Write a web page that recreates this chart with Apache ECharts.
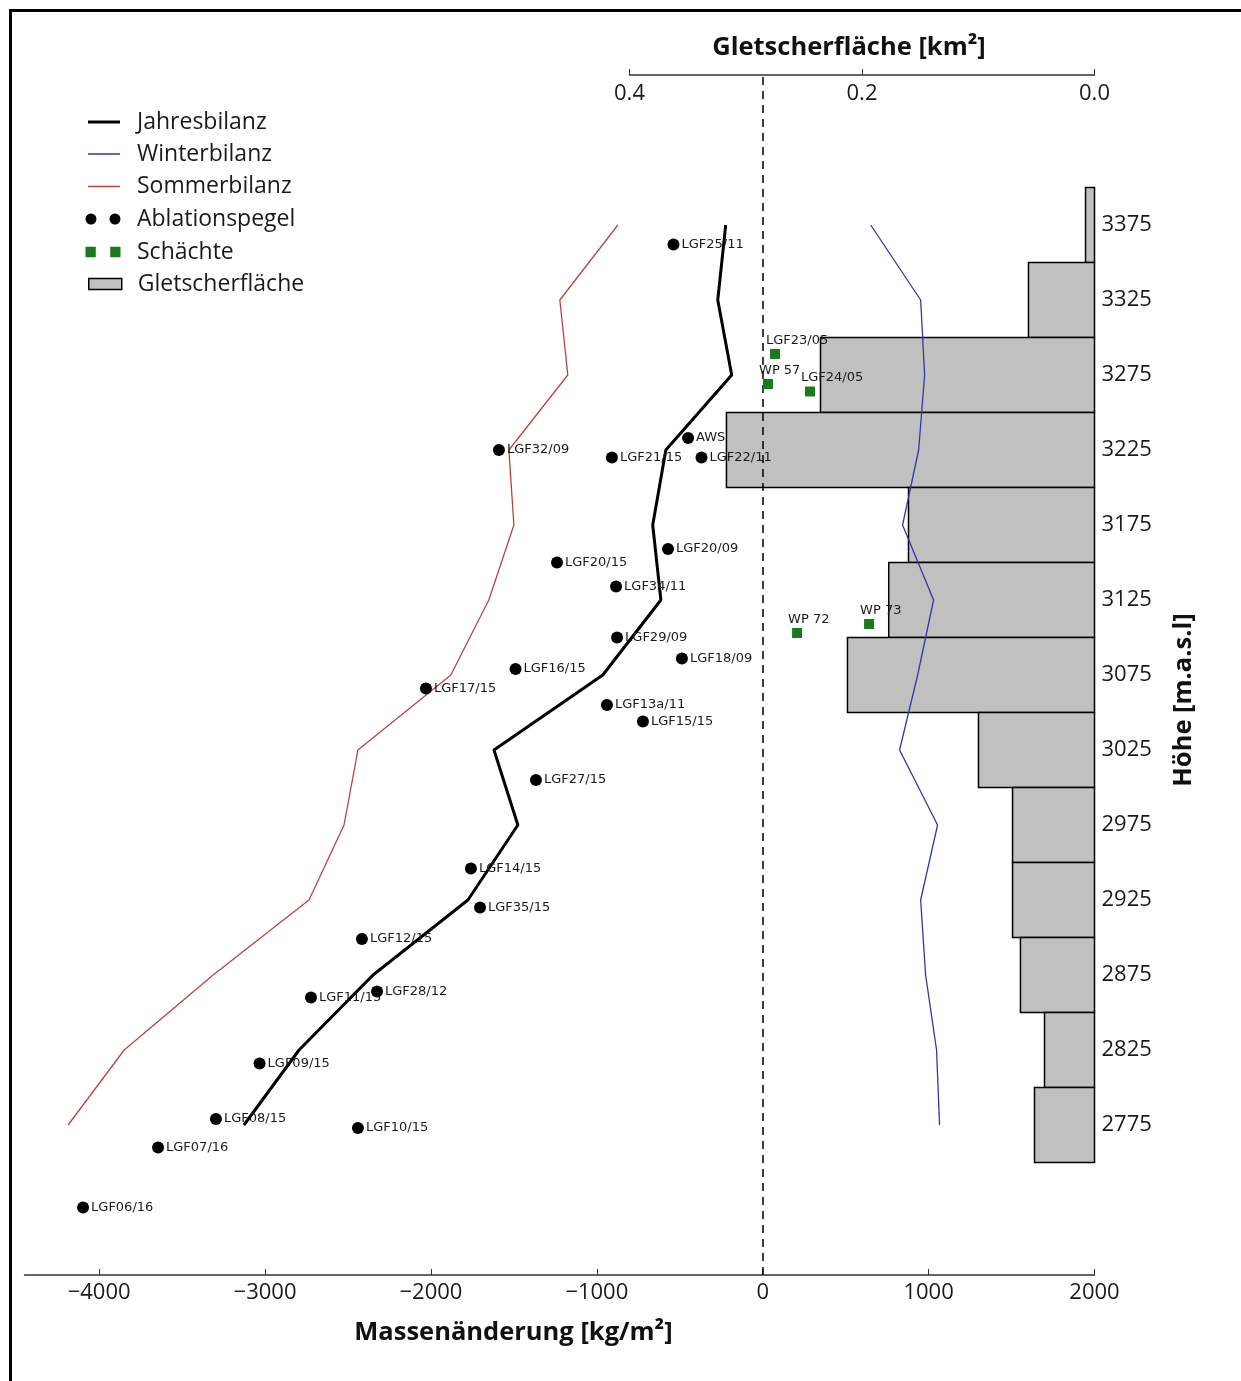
<!DOCTYPE html>
<html>
<head>
<meta charset="utf-8">
<title>Massenbilanz nach Höhenstufen</title>
<script src="https://cdn.jsdelivr.net/npm/echarts@6.0.0/dist/echarts.min.js"></script>
<style>
  html, body { margin: 0; padding: 0; background: #fff; }
  #chart { width: 1241px; height: 1381px; }
</style>
</head>
<body>
<div id="chart"></div>
<script>
// Höhenstufen (Mitte der 50 m Bänder) und Bilanzen [kg/m²]
const elevations = [3375, 3325, 3275, 3225, 3175, 3125, 3075, 3025, 2975, 2925, 2875, 2825, 2775];
const jahresbilanz = [-223, -271, -187, -584, -663, -614, -964, -1620, -1476, -1777, -2349, -2795, -3127];
const winterbilanz = [651, 952, 976, 940, 843, 1030, 934, 825, 1054, 952, 982, 1048, 1066];
const sommerbilanz = [-873, -1223, -1175, -1530, -1500, -1651, -1880, -2440, -2524, -2735, -3313, -3849, -4187];

// Gletscherfläche je Höhenstufe [km²]
const flaeche = [0.0077, 0.0568, 0.2357, 0.3166, 0.160, 0.177, 0.2125, 0.0998, 0.0705, 0.0705, 0.0637, 0.043, 0.0516];
const bandHeight = 50;

// Ablationspegel
const stakeNames = ['LGF25/11', 'AWS', 'LGF32/09', 'LGF21/15', 'LGF22/11', 'LGF20/09', 'LGF20/15', 'LGF34/11',
    'LGF29/09', 'LGF18/09', 'LGF16/15', 'LGF17/15', 'LGF13a/11', 'LGF15/15', 'LGF27/15', 'LGF14/15',
    'LGF35/15', 'LGF12/15', 'LGF28/12', 'LGF11/15', 'LGF09/15', 'LGF08/15', 'LGF10/15', 'LGF07/16', 'LGF06/16'];
const stakeMass = [-538, -450, -1590, -909, -369, -571, -1240, -884,
    -878, -487, -1490, -2030, -939, -722, -1367, -1759,
    -1704, -2416, -2325, -2723, -3033, -3296, -2440, -3645, -4097];
const stakeElev = [3362, 3233, 3225, 3220, 3220, 3159, 3150, 3134,
    3100, 3086, 3079, 3066, 3055, 3044, 3005, 2946,
    2920, 2899, 2864, 2860, 2816, 2779, 2773, 2760, 2720];

// Schächte
const pitNames = ['LGF23/05', 'WP 57', 'LGF24/05', 'WP 72', 'WP 73'];
const pitMass = [74, 32, 285, 207, 641];
const pitElev = [3289, 3269, 3264, 3103, 3109];

// Achsenbeschriftung
const massTicks = [-4000, -3000, -2000, -1000, 0, 1000, 2000];
const areaTicks = [0, 0.2, 0.4];
const elevTicks = [2775, 2825, 2875, 2925, 2975, 3025, 3075, 3125, 3175, 3225, 3275, 3325, 3375];

const sans = 'Open Sans';
const smallFont = 'DejaVu Sans';

function pairs(xs, ys) {
    return xs.map((x, i) => [x, ys[i]]);
}

function named(names, xs, ys) {
    return names.map((n, i) => ({ name: n, value: [xs[i], ys[i]] }));
}

// horizontales Flächenband, von 0 km² (rechts) nach links
function renderBand(params, api) {
    const elev = api.value(1);
    const a = api.coord([api.value(0), elev + bandHeight / 2]);
    const b = api.coord([0, elev - bandHeight / 2]);
    return {
        type: 'rect',
        shape: { x: a[0], y: a[1], width: b[0] - a[0], height: b[1] - a[1] },
        style: { fill: '#c0c0c0', stroke: '#000', lineWidth: 1.5 }
    };
}

const legendText = { fontFamily: sans, fontSize: 23, color: '#1a1a1a', padding: [0, 0, 0, 12] };
const titleText = { fontFamily: sans, fontWeight: 'bold', fontSize: 25.5, color: '#111' };
const twoDots = 'path://M0,5.5a5.5,5.5 0 1,0 11,0a5.5,5.5 0 1,0 -11,0z M24,5.5a5.5,5.5 0 1,0 11,0a5.5,5.5 0 1,0 -11,0z';
const twoSquares = 'path://M0,0h10v10h-10z M24,0h10v10h-10z';

const option = {
    animation: false,
    backgroundColor: '#fff',
    graphic: [{
        type: 'rect', silent: true, z: -1,
        shape: { x: 10.5, y: 10.5, width: 1240, height: 1380 },
        style: { fill: 'none', stroke: '#000', lineWidth: 3 }
    }],
    legend: [
        {
            orient: 'vertical', left: 88, top: 110.5, padding: 0, itemWidth: 32, itemHeight: 3,
            textStyle: legendText,
            data: [{ name: 'Jahresbilanz', icon: 'rect', itemStyle: { borderWidth: 0 } }]
        },
        {
            orient: 'vertical', left: 88, top: 142.5, padding: 0, itemWidth: 32, itemHeight: 1.5, itemGap: 9.5,
            textStyle: legendText,
            data: [
                { name: 'Winterbilanz', icon: 'rect', itemStyle: { borderWidth: 0 } },
                { name: 'Sommerbilanz', icon: 'rect', itemStyle: { borderWidth: 0 } }
            ]
        },
        {
            orient: 'vertical', left: 85.5, top: 207.5, padding: 0, itemWidth: 35, itemHeight: 11, itemGap: 10,
            textStyle: Object.assign({}, legendText, { padding: [0, 0, 0, 11.5] }),
            data: [
                { name: 'Ablationspegel', icon: twoDots },
                { name: 'Schächte', icon: twoSquares }
            ]
        },
        {
            orient: 'vertical', left: 88, top: 272.5, padding: 0, itemWidth: 33, itemHeight: 11,
            textStyle: Object.assign({}, legendText, { padding: [0, 0, 0, 11] }),
            data: [{ name: 'Gletscherfläche', icon: 'rect',
                itemStyle: { color: '#c0c0c0', borderColor: '#000', borderWidth: 1.5 } }]
        }
    ],
    grid: [
        { left: 24.5, right: 146.5, top: 75, bottom: 106 },
        { left: 629.5, right: 146.5, top: 75, bottom: 106 }
    ],
    xAxis: [
        {
            gridIndex: 0, type: 'value', position: 'bottom', min: -4450, max: 2000,
            name: 'Massenänderung [kg/m²]', nameLocation: 'middle', nameGap: 45,
            nameTextStyle: Object.assign({}, titleText, { padding: [0, 92, 0, 0] }),
            axisLine: { onZero: false, lineStyle: { color: '#333', width: 1.5 } },
            axisTick: { inside: true, length: 6, customValues: massTicks, lineStyle: { color: '#333' } },
            axisLabel: {
                customValues: massTicks, margin: 7, fontFamily: sans, fontSize: 22, color: '#1a1a1a',
                formatter: v => (v < 0 ? '\u2212' + (-v) : String(v))
            },
            splitLine: { show: false }
        },
        {
            gridIndex: 1, type: 'value', position: 'top', min: 0, max: 0.4, inverse: true,
            name: 'Gletscherfläche [km²]', nameLocation: 'middle', nameGap: 14,
            nameTextStyle: Object.assign({}, titleText, { padding: [0, 26, 0, 0] }),
            axisLine: { onZero: false, lineStyle: { color: '#333', width: 1.5 } },
            axisTick: { inside: false, length: 6, customValues: areaTicks, lineStyle: { color: '#333' } },
            axisLabel: {
                inside: true, customValues: areaTicks, margin: 8, fontFamily: sans, fontSize: 22, color: '#1a1a1a',
                formatter: v => v.toFixed(1)
            },
            splitLine: { show: false }
        }
    ],
    yAxis: [
        {
            gridIndex: 0, type: 'value', position: 'right', min: 2675, max: 3475,
            name: 'Höhe [m.a.s.l]', nameLocation: 'middle', nameRotate: 90, nameGap: 76,
            nameTextStyle: Object.assign({}, titleText, { padding: [0, 50, 0, 0] }),
            axisLine: { show: false, onZero: false },
            axisTick: { inside: true, length: 7, customValues: elevTicks, lineStyle: { color: '#333' } },
            axisLabel: {
                customValues: elevTicks, margin: 7, fontFamily: sans, fontSize: 22, color: '#1a1a1a',
                formatter: v => String(v)
            },
            splitLine: { show: false }
        },
        {
            gridIndex: 1, type: 'value', min: 2675, max: 3475, show: false,
            axisLine: { onZero: false }, splitLine: { show: false }
        }
    ],
    series: [
        {
            name: 'Gletscherfläche', type: 'custom', xAxisIndex: 1, yAxisIndex: 1, z: 1,
            itemStyle: { color: '#c0c0c0', borderColor: '#000', borderWidth: 1.5 },
            renderItem: renderBand,
            encode: { x: 0, y: 1 },
            data: pairs(flaeche, elevations)
        },
        {
            name: 'Jahresbilanz', type: 'line', z: 3, symbol: 'none',
            itemStyle: { color: '#000' },
            lineStyle: { color: '#000', width: 3 },
            data: pairs(jahresbilanz, elevations),
            markLine: {
                silent: true, symbol: ['none', 'none'], label: { show: false },
                lineStyle: { color: '#000', width: 1.5, type: [8, 6] },
                data: [{ xAxis: 0 }]
            }
        },
        {
            name: 'Winterbilanz', type: 'line', z: 3, symbol: 'none',
            itemStyle: { color: '#3535a5' },
            lineStyle: { color: '#3535a5', width: 1.3 },
            data: pairs(winterbilanz, elevations)
        },
        {
            name: 'Sommerbilanz', type: 'line', z: 3, symbol: 'none',
            itemStyle: { color: '#b8443f' },
            lineStyle: { color: '#b8443f', width: 1.3 },
            data: pairs(sommerbilanz, elevations)
        },
        {
            name: 'Ablationspegel', type: 'scatter', z: 5, symbol: 'circle', symbolSize: 12,
            itemStyle: { color: '#000', opacity: 1 },
            label: {
                show: true, position: 'right', distance: 2, formatter: '{b}',
                fontFamily: smallFont, fontSize: 13, color: '#1a1a1a'
            },
            data: named(stakeNames, stakeMass, stakeElev)
        },
        {
            name: 'Schächte', type: 'scatter', z: 5, symbol: 'rect', symbolSize: 10,
            itemStyle: { color: '#1b7a1b', opacity: 1 },
            label: {
                show: true, position: 'top', align: 'left', offset: [-9, 0], distance: 2, formatter: '{b}',
                fontFamily: smallFont, fontSize: 13, color: '#1a1a1a'
            },
            data: named(pitNames, pitMass, pitElev)
        }
    ]
};

const chart = echarts.init(document.getElementById('chart'));
chart.setOption(option);
</script>
</body>
</html>
